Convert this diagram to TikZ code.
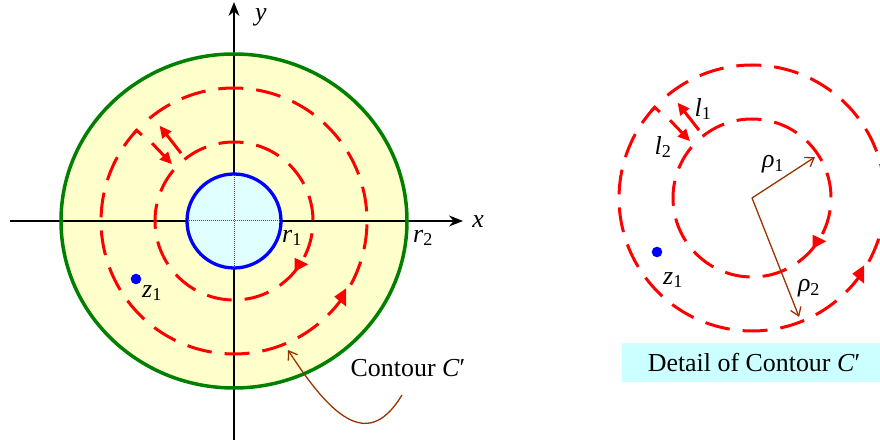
\documentclass[tikz,border=0pt]{standalone}
\usepackage{fontspec}
\setmainfont{Liberation Serif}
\usetikzlibrary{arrows.meta}
\definecolor{paleyellow}{RGB}{255,255,204}
\definecolor{palecyan}{RGB}{224,255,255}
\definecolor{boxcyan}{RGB}{204,255,255}
\definecolor{contred}{RGB}{255,0,0}
\definecolor{arrowbrown}{RGB}{153,51,0}
\definecolor{ringgreen}{RGB}{0,128,0}
\newcommand{\vsym}[2]{\textit{#1}\textsubscript{#2}}
\begin{document}
\begin{tikzpicture}[x=1bp, y=1bp, font=\fontsize{26}{30}\selectfont,
  contour/.style={contred, line width=3bp, dash pattern=on 25bp off 13bp},
  cut/.style={contred, line width=3bp, -{Triangle[length=12bp,width=11bp]}},
  radius arrow/.style={arrowbrown, line width=1.3bp, -{Straight Barb[length=8bp,width=11bp]}}]
  \clip (0,0) rectangle (880,443);

  % annulus and axes
  \fill[paleyellow] (234,222) ellipse [x radius=173, y radius=167];
  \draw[line width=1.2bp, -{Stealth[length=14bp,width=11bp]}] (10,222) -- (463,222);
  \draw[line width=1.2bp, -{Stealth[length=14bp,width=11bp]}] (234,3) -- (234,441);
  \node (xlabel) at (478,221) {\textit{x}};
  \node (ylabel) at (261,426) {\textit{y}};
  \fill[palecyan] (234,222) circle [radius=47];
  \draw[densely dotted, gray!60!black, line width=1bp] (187,222) -- (281,222);
  \draw[densely dotted, gray!60!black, line width=1bp] (234,175) -- (234,269);
  \draw[blue, line width=3.3bp] (234,222) circle [radius=47];
  \draw[ringgreen, line width=3.5bp] (234,222) ellipse [x radius=173, y radius=167];
  \node (r1label) at (292,205) {\vsym{r}{1}};
  \node (r2label) at (423,205) {\vsym{r}{2}};

  % contour C', drawn in place and as detail
  \foreach \cx/\cy in {234/222, 752/245} {
    \begin{scope}[shift={(\cx,\cy)}]
      \draw[contour] (129.5:133) arc [start angle=129.5, end angle=-223, radius=133];
      \draw[contour] (128.8:79) arc [start angle=128.8, end angle=-223, radius=79];
      \draw[contred, line width=3bp] (139:133) arc [start angle=139, end angle=137, radius=133] -- (137:126);
      \fill[contred] (60.5,-36.7) -- (74.3,-43.3) -- (60.5,-50.7) -- cycle;
      \fill[contred] (100.3,-75.7) -- (112.2,-67.3) -- (112.2,-85.7) -- cycle;
      \draw[cut] (128:86) -- (128:121);
      \draw[cut] (136.5:113) -- (137.5:84);
    \end{scope}
  }

  % point z1
  \fill[blue] (136,164) circle [radius=5.3];
  \node (zleft) at (152,150) {\vsym{z}{1}};
  \fill[blue] (657,191) circle [radius=5.3];
  \node (zright) at (673,163) {\vsym{z}{1}};

  % label of the contour
  \node (contlabel) at (408,75) {Contour \textit{C}′};
  \coordinate (conttip) at (288,93);
  \draw[radius arrow] (402,48) .. controls (370,-5) and (335,20) .. (conttip);

  % detail labels
  \coordinate (centre) at (752,245);
  \draw[radius arrow] (centre) -- ++(33:75);
  \draw[radius arrow] (centre) -- ++(-68.4:128);
  \node (rho1) at (773,279) {\vsym{ρ}{1}};
  \node (rho2) at (809,155) {\vsym{ρ}{2}};
  \node (l1label) at (703,334) {\vsym{l}{1}};
  \node (l2label) at (663,296) {\vsym{l}{2}};
  \node[fill=boxcyan, minimum width=264bp, minimum height=39bp, inner sep=0pt] (detailbox)
    at (754,80) {Detail of Contour \textit{C}′};
\end{tikzpicture}
\end{document}
